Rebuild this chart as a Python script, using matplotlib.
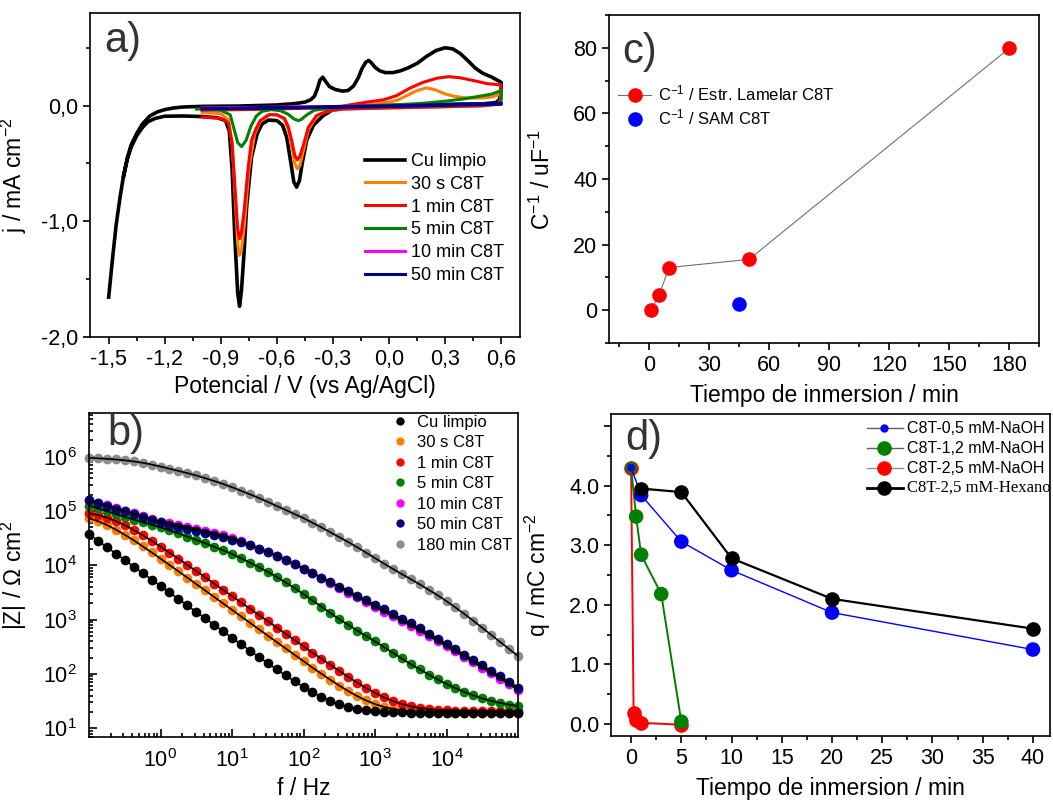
import numpy as np
import matplotlib
matplotlib.use('Agg')
import matplotlib.pyplot as plt
from matplotlib.lines import Line2D
from matplotlib.font_manager import FontProperties
from matplotlib.ticker import MultipleLocator, FuncFormatter, FixedLocator, LogLocator, NullFormatter

plt.rcParams['font.family'] = ['Liberation Sans', 'DejaVu Sans']
plt.rcParams['mathtext.fontset'] = 'custom'
plt.rcParams['mathtext.rm'] = 'Liberation Sans'
plt.rcParams['mathtext.it'] = 'Liberation Sans:italic'
plt.rcParams['mathtext.bf'] = 'Liberation Sans:bold'
plt.rcParams['axes.linewidth'] = 1.2

# ---------------- a) cyclic voltammograms (E / V, j / mA cm-2)
cv_labels = ['Cu limpio', '30 s C8T', '1 min C8T', '5 min C8T', '10 min C8T', '50 min C8T']
cv_colors = ['black', '#ff8000', '#ff0000', '#008000', '#ff00ff', '#000080']

E_cu = [-1.50, -1.48, -1.46, -1.44, -1.42, -1.40, -1.38, -1.35, -1.32, -1.28, -1.24, -1.20, -1.15, -1.10,
        -1.00, -0.80, -0.60, -0.50, -0.45, -0.42, -0.40, -0.385, -0.37, -0.355, -0.34, -0.32, -0.29, -0.25,
        -0.22, -0.19, -0.165, -0.145, -0.125, -0.11, -0.095, -0.075, -0.05, -0.02, 0.02, 0.06, 0.10, 0.15,
        0.20, 0.25, 0.30, 0.34, 0.38, 0.42, 0.46, 0.50, 0.55, 0.60,
        0.598, 0.59, 0.57, 0.50, 0.30, 0.00, -0.20, -0.30, -0.352, -0.405, -0.441, -0.465, -0.48, -0.495,
        -0.51, -0.525, -0.548, -0.57, -0.60, -0.646, -0.68, -0.705, -0.736, -0.7625, -0.775, -0.79, -0.80,
        -0.81, -0.825, -0.84, -0.855, -0.875, -0.92, -1.00, -1.10, -1.20, -1.25, -1.29, -1.32, -1.35, -1.38,
        -1.40, -1.42]
j_cu = [-1.655, -1.33, -1.03, -0.80, -0.60, -0.45, -0.34, -0.24, -0.16, -0.09, -0.055, -0.035, -0.02, -0.012,
        -0.007, -0.004, 0.005, 0.018, 0.03, 0.05, 0.08, 0.14, 0.22, 0.245, 0.21, 0.165, 0.14, 0.125,
        0.13, 0.17, 0.24, 0.32, 0.375, 0.39, 0.37, 0.33, 0.30, 0.285, 0.285, 0.30, 0.325, 0.365,
        0.425, 0.475, 0.50, 0.49, 0.45, 0.39, 0.325, 0.28, 0.245, 0.20,
        0.12, 0.05, 0.025, 0.015, 0.01, 0.0, -0.01, -0.035, -0.086, -0.17, -0.30, -0.50, -0.65, -0.705,
        -0.66, -0.50, -0.273, -0.17, -0.13, -0.125, -0.16, -0.24, -0.446, -0.88, -1.25, -1.6, -1.735,
        -1.62, -1.15, -0.55, -0.22, -0.13, -0.105, -0.095, -0.09, -0.092, -0.11, -0.14, -0.19, -0.26, -0.36,
        -0.46, -0.61]

E_30s = [-1.00, -0.80, -0.60, -0.40, -0.20, -0.10, 0.00, 0.05, 0.10, 0.15, 0.20, 0.25, 0.30, 0.35, 0.40,
         0.45, 0.50, 0.55, 0.58, 0.60,
         0.598, 0.58, 0.50, 0.30, 0.00, -0.25, -0.334, -0.387, -0.432, -0.46, -0.478, -0.491, -0.505, -0.52,
         -0.54, -0.56, -0.60, -0.65, -0.69, -0.72, -0.75, -0.775, -0.79, -0.80, -0.81, -0.825, -0.84, -0.86,
         -0.90, -1.00]
j_30s = [-0.035, -0.03, -0.025, -0.02, -0.005, 0.01, 0.03, 0.05, 0.09, 0.13, 0.153, 0.135, 0.10, 0.08, 0.068,
         0.065, 0.066, 0.075, 0.09, 0.115,
         0.04, 0.01, -0.005, -0.01, -0.02, -0.03, -0.05, -0.09, -0.21, -0.40, -0.52, -0.547, -0.50, -0.36,
         -0.20, -0.12, -0.08, -0.08, -0.14, -0.25, -0.55, -1.05, -1.25, -1.295, -1.2, -0.75, -0.32, -0.12,
         -0.07, -0.06]

E_1min = [-1.00, -0.80, -0.60, -0.40, -0.25, -0.12, -0.03, 0.04, 0.11, 0.18, 0.255, 0.318, 0.38, 0.452,
          0.523, 0.60,
          0.598, 0.58, 0.50, 0.30, 0.00, -0.25, -0.334, -0.387, -0.432, -0.46, -0.478, -0.491, -0.505, -0.52,
          -0.54, -0.56, -0.60, -0.64, -0.69, -0.715, -0.736, -0.755, -0.775, -0.79, -0.80, -0.81, -0.825,
          -0.84, -0.86, -0.90, -1.00]
j_1min = [-0.04, -0.035, -0.03, -0.02, -0.005, 0.03, 0.05, 0.086, 0.15, 0.20, 0.236, 0.25, 0.24, 0.216,
          0.19, 0.178,
          0.06, 0.015, 0.0, -0.01, -0.02, -0.03, -0.05, -0.085, -0.187, -0.35, -0.44, -0.469, -0.43, -0.31,
          -0.18, -0.11, -0.08, -0.078, -0.13, -0.21, -0.30, -0.55, -0.9, -1.1, -1.151, -1.07, -0.7,
          -0.32, -0.15, -0.11, -0.10]

E_5min = [-1.03, -0.80, -0.60, -0.40, -0.20, 0.00, 0.10, 0.20, 0.30, 0.40, 0.50, 0.55, 0.60,
          0.598, 0.57, 0.40, 0.00, -0.30, -0.40, -0.44, -0.47, -0.486, -0.51, -0.54, -0.58, -0.63, -0.68,
          -0.71, -0.74, -0.765, -0.789, -0.81, -0.83, -0.85, -0.90, -1.00]
j_5min = [-0.03, -0.025, -0.02, -0.015, -0.005, 0.005, 0.012, 0.022, 0.038, 0.058, 0.085, 0.10, 0.13,
          0.03, 0.01, 0.0, -0.01, -0.02, -0.04, -0.08, -0.12, -0.13, -0.115, -0.075, -0.045, -0.035, -0.05,
          -0.09, -0.18, -0.30, -0.354, -0.32, -0.2, -0.08, -0.04, -0.03]

E_10min = [-1.00, -0.50, 0.00, 0.60, 0.60, 0.00, -0.50, -1.00]
j_10min = [-0.02, -0.012, -0.003, 0.018, 0.01, -0.008, -0.018, -0.028]

E_50min = [-1.00, -0.50, 0.00, 0.60, 0.60, 0.00, -0.50, -1.00]
j_50min = [-0.025, -0.015, -0.002, 0.02, 0.012, -0.008, -0.02, -0.03]

# ---------------- b) impedance modulus |Z| (ohm cm2) vs f (Hz)
freq = [0.1, 0.133, 0.178, 0.237, 0.316, 0.422, 0.562, 0.75,
        1, 1.33, 1.78, 2.37, 3.16, 4.22, 5.62, 7.5,
        10, 13.3, 17.8, 23.7, 31.6, 42.2, 56.2, 75,
        100, 133, 178, 237, 316, 422, 562, 750,
        1000, 1330, 1780, 2370, 3160, 4220, 5620, 7500,
        10000, 13300, 17800, 23700, 31600, 42200, 56200, 75000, 100000]
z_cu = [37700, 28600, 21700, 16500, 12500, 9520, 7230, 5490, 4170, 3170, 2410, 1830, 1390, 1056, 803, 611,
        465, 354, 270, 206, 158, 121, 93.7, 73.0, 57.5, 46.1, 37.7, 31.8, 27.6, 24.7, 22.8, 21.6, 20.7,
        20.2, 19.8, 19.6, 19.5, 19.4, 19.3, 19.2, 19.2, 19.1, 19.1, 19.1, 19.0, 19.0, 19.0, 19.0, 19.0]
z_30s = [74200, 65200, 55400, 45600, 36600, 28900, 22460, 17350, 13320, 10190, 7790, 5940, 4525, 3445,
         2622, 1995, 1517, 1154, 877, 667, 508, 387, 295, 225, 172, 131, 101, 78.2, 61.1, 48.4, 39.2, 32.5,
         27.9, 24.8, 22.7, 21.4, 20.5, 20.0, 19.7, 19.4, 19.3, 19.2, 19.1, 19.1, 19.1, 19.0, 19.0, 19.0, 19.0]
z_1min = [91800, 84600, 75600, 65500, 55000, 44950, 36000, 28420, 22180, 17220, 13290, 10230, 7862, 6034,
          4623, 3545, 2716, 2080, 1594, 1222, 936, 717, 549, 421, 323, 248, 191, 147, 114, 88.5, 69.5, 55.2,
          44.8, 37.1, 31.7, 27.9, 25.4, 23.7, 22.6, 21.9, 21.45, 21.2, 20.9, 20.8, 20.7, 20.6, 20.6, 20.5, 20.5]
z_5min = [125900, 111700, 99100, 87900, 78000, 69700, 62400, 56000, 50100, 44200, 38900, 34000, 29500,
          25600, 22000, 19000, 16200, 13600, 11200, 9270, 7590, 6100, 4840, 3800, 2950, 2260, 1740, 1330,
          1020, 804, 631, 501, 398, 313, 245, 193, 151, 122, 97.7, 79.4, 65.3, 55.0, 46.8, 40.3, 35.5, 32.0,
          29.2, 27.2, 25.7]
z_10min = [162000, 143500, 127400, 113200, 100700, 90600, 80500, 71600, 63800, 60500, 55600, 51000, 46800,
           42900, 39100, 35500, 32000, 27900, 24000, 20400, 17600, 15000, 12600, 10500, 8710, 7210, 5960,
           4810, 3890, 3140, 2590, 2140, 1720, 1410, 1160, 951, 776, 631, 507, 407, 326, 260, 207, 165, 131,
           104, 82.2, 64.9, 51.3]
z_50min = [158000, 140300, 124500, 110000, 98400, 87500, 77800, 69200, 61700, 56500, 51900, 47600, 43700,
           40000, 36500, 33100, 29900, 26600, 23400, 20400, 17600, 15000, 12600, 10500, 8710, 7210, 5960,
           4920, 4070, 3370, 2770, 2290, 1880, 1550, 1270, 1040, 851, 692, 556, 447, 357, 285, 228, 181, 144,
           114, 90.2, 71.1, 56.2]
z_180min = [955000, 938000, 916000, 891000, 861000, 822000, 776000, 719000, 661000, 603000, 550000, 501000,
            452000, 403000, 359000, 316000, 275000, 237000, 204000, 174000, 148000, 124000, 105000, 88100,
            74100, 61000, 50100, 40700, 33100, 26900, 21600, 17200, 13600, 10800, 8610, 6920, 5560, 4470,
            3550, 2820, 2190, 1680, 1270, 955, 708, 525, 389, 288, 214]
eis_labels = ['Cu limpio', '30 s C8T', '1 min C8T', '5 min C8T', '10 min C8T', '50 min C8T', '180 min C8T']
eis_colors = ['black', '#ff8000', '#ff0000', '#008000', '#ff00ff', '#000080', '#8c8c8c']

# ---------------- c) inverse capacitance vs immersion time
t_lamelar = [1, 5, 10, 50, 180]
cinv_lamelar = [0.1, 4.5, 13.0, 15.5, 79.8]
t_sam = [45]
cinv_sam = [1.8]

# ---------------- d) charge vs immersion time
t_05 = [0, 1, 5, 10, 20, 40]
q_05 = [4.30, 3.84, 3.06, 2.58, 1.87, 1.25]
t_12 = [0, 0.5, 1, 3, 5]
q_12 = [4.30, 3.48, 2.84, 2.18, 0.04]
t_25 = [0, 0.25, 0.5, 1, 5]
q_25 = [4.30, 0.19, 0.07, 0.02, -0.01]
t_hex = [1, 5, 10, 20, 40]
q_hex = [3.95, 3.89, 2.78, 2.10, 1.60]
d_labels = ['C8T-0,5 mM-NaOH', 'C8T-1,2 mM-NaOH', 'C8T-2,5 mM-NaOH', 'C8T-2,5 mM-Hexano']

W, H = 1053, 806
fig = plt.figure(figsize=(W / 100, H / 100), dpi=100)

TICK = 15.5
LAB = 16.5
SANS = ['Liberation Sans', 'DejaVu Sans']
SERIF = ['Liberation Serif', 'DejaVu Serif']


def rect(x0, y0, x1, y1):
    # pixel box (top-left origin) -> figure fraction
    return [x0 / W, 1 - y1 / H, (x1 - x0) / W, (y1 - y0) / H]


def comma(v, pos=None):
    return f'{round(v, 2) + 0:.1f}'.replace('.', ',')


def style_out(ax):
    ax.tick_params(which='both', direction='out', top=False, right=False, labelsize=TICK, width=1.2)
    ax.tick_params(which='major', length=5)
    ax.tick_params(which='minor', length=3)


label_kw = dict(fontsize=30, color='#333333', ha='left', va='baseline')

# ---- a)
axa = fig.add_axes(rect(90, 13, 520, 337))
curves = [(E_cu, j_cu), (E_30s, j_30s), (E_1min, j_1min), (E_5min, j_5min), (E_10min, j_10min), (E_50min, j_50min)]
for (E, j), c, lab in zip(curves, cv_colors, cv_labels):
    lw = 2.6 if c == 'black' else 2.2
    axa.plot(E, j, color=c, lw=lw, label=lab, solid_joinstyle='round')
axa.set_xlim(-1.6, 0.7)
axa.set_ylim(-2.0, 0.8)
axa.xaxis.set_major_locator(FixedLocator([-1.5, -1.2, -0.9, -0.6, -0.3, 0.0, 0.3, 0.6]))
axa.xaxis.set_minor_locator(FixedLocator([-1.35, -1.05, -0.75, -0.45, -0.15, 0.15, 0.45]))
axa.yaxis.set_major_locator(FixedLocator([-2.0, -1.0, 0.0]))
axa.yaxis.set_minor_locator(FixedLocator([-1.5, -0.5, 0.5]))
axa.xaxis.set_major_formatter(FuncFormatter(comma))
axa.yaxis.set_major_formatter(FuncFormatter(comma))
style_out(axa)
axa.set_xlabel('Potencial / V (vs Ag/AgCl)', fontsize=LAB, labelpad=4)
axa.set_ylabel('j / mA cm$^{-2}$', fontsize=LAB)
axa.yaxis.set_label_coords(-0.142, 0.5)
axa.text(0.033, 0.88, 'a)', transform=axa.transAxes, **label_kw)
axa.legend(loc='upper left', bbox_to_anchor=(0.64, 0.568), frameon=False,
           prop=FontProperties(family=SANS, size=13),
           handlelength=2.2, handletextpad=0.35, labelspacing=0.32, borderpad=0, borderaxespad=0)

# ---- b)
axb = fig.add_axes(rect(89, 413, 518, 737))
zsets = [z_cu, z_30s, z_1min, z_5min, z_10min, z_50min, z_180min]
draw_order = [1, 2, 3, 4, 5, 6, 0]
for i in draw_order:
    axb.plot(freq, zsets[i], 'o', color=eis_colors[i], ms=7, mec='none', clip_on=False, zorder=2)
for z in zsets:
    axb.plot(freq, z, color='black', lw=1.2, zorder=3)
axb.set_xscale('log')
axb.set_yscale('log')
axb.set_xlim(0.1, 1e5)
axb.set_ylim(6.9, 6.4e6)
axb.xaxis.set_major_locator(FixedLocator([1, 10, 100, 1000, 10000]))
axb.xaxis.set_minor_locator(LogLocator(base=10, subs=np.arange(2, 10)))
axb.xaxis.set_minor_formatter(NullFormatter())
axb.yaxis.set_major_locator(FixedLocator([10, 1e2, 1e3, 1e4, 1e5, 1e6]))
axb.yaxis.set_minor_locator(LogLocator(base=10, subs=np.arange(2, 10)))
axb.yaxis.set_minor_formatter(NullFormatter())
axb.tick_params(which='both', direction='in', top=False, right=False, labelsize=TICK, width=1.2, pad=9)
axb.tick_params(which='major', length=6)
axb.tick_params(which='minor', length=3)
axb.set_xlabel('f / Hz', fontsize=LAB, labelpad=3)
axb.set_ylabel('|Z| / Ω cm$^2$', fontsize=LAB)
axb.yaxis.set_label_coords(-0.14, 0.5)
axb.text(0.042, 0.90, 'b)', transform=axb.transAxes, **label_kw)
hb = [Line2D([], [], ls='none', marker='o', ms=6, color=c, mec='none') for c in eis_colors]
axb.legend(hb, eis_labels, loc='upper left', bbox_to_anchor=(0.71, 0.995), frameon=False,
           prop=FontProperties(family=SANS, size=12),
           handlelength=0.8, handletextpad=0.6, labelspacing=0.33, borderpad=0, borderaxespad=0)

# ---- c)
axc = fig.add_axes(rect(609, 15, 1039, 343))
axc.plot(t_lamelar, cinv_lamelar, color='#707070', lw=0.8, marker='o', ms=9.5, mfc='#ff0000', mec='#ff0000',
         label='C$^{-1}$ / Estr. Lamelar C8T')
axc.plot(t_sam, cinv_sam, ls='none', marker='o', ms=9.5, color='#0000ff', mec='#0000ff',
         label='C$^{-1}$ / SAM C8T')
axc.set_xlim(-20, 195)
axc.set_ylim(-10, 90)
axc.xaxis.set_major_locator(MultipleLocator(30))
axc.xaxis.set_minor_locator(MultipleLocator(15))
axc.yaxis.set_major_locator(FixedLocator([0, 20, 40, 60, 80]))
axc.yaxis.set_minor_locator(MultipleLocator(10))
style_out(axc)
axc.set_xlabel('Tiempo de inmersion / min', fontsize=LAB, labelpad=6)
axc.set_ylabel('C$^{-1}$ / uF$^{-1}$', fontsize=LAB)
axc.yaxis.set_label_coords(-0.126, 0.5)
axc.text(0.03, 0.853, 'c)', transform=axc.transAxes, **label_kw)
axc.legend(loc='upper left', bbox_to_anchor=(0.021, 0.79), frameon=False,
           prop=FontProperties(family=SANS, size=12),
           handlelength=2.0, handletextpad=0.4, labelspacing=0.25, borderpad=0, borderaxespad=0)

# ---- d)
axd = fig.add_axes(rect(611, 414, 1050, 736))
big = 9.5 ** 2
axd.plot(t_25, q_25, color='#ff0000', lw=1.4, zorder=2)
axd.scatter(t_25, q_25, s=big, color='#ff0000', zorder=2, clip_on=False)
axd.plot(t_12, q_12, color='#008000', lw=1.4, zorder=3)
axd.scatter(t_12, q_12, s=np.where(np.array(t_12) == 0, 7.5 ** 2, big), color='#008000', zorder=3)
axd.plot(t_05, q_05, color='#0000ff', lw=1.0, zorder=4)
axd.scatter(t_05, q_05, s=np.where(np.array(t_05) == 0, 4.5 ** 2, big), color='#0000ff', zorder=4)
axd.plot(t_hex, q_hex, color='black', lw=1.6, zorder=5)
axd.scatter(t_hex, q_hex, s=big, color='black', zorder=5)
axd.set_xlim(-2, 41.7)
axd.set_ylim(-0.2, 5.2)
axd.xaxis.set_major_locator(MultipleLocator(5))
axd.xaxis.set_minor_locator(MultipleLocator(2.5))
axd.yaxis.set_major_locator(FixedLocator([0, 1, 2, 3, 4, 5]))
axd.yaxis.set_minor_locator(MultipleLocator(0.5))
axd.yaxis.set_major_formatter(FuncFormatter(lambda v, p: f'{v:.1f}' if v < 4.5 else ''))
style_out(axd)
axd.set_xlabel('Tiempo de inmersion / min', fontsize=LAB, labelpad=6)
axd.set_ylabel('q / mC cm$^{-2}$', fontsize=LAB)
axd.yaxis.set_label_coords(-0.132, 0.5)
axd.text(0.032, 0.888, 'd)', transform=axd.transAxes, **label_kw)

# legend for d) laid out by hand: the last entry is set in a serif face
d_handles = [dict(color='#606060', lw=1.0, ms=5, mc='#0000ff'),
             dict(color='#606060', lw=1.0, ms=9.5, mc='#008000'),
             dict(color='#909090', lw=1.0, ms=9.5, mc='#ff0000'),
             dict(color='black', lw=2.0, ms=9.5, mc='black')]
row_y = [0.9565, 0.894, 0.832, 0.770]
for k, (hs, lab, yy) in enumerate(zip(d_handles, d_labels, row_y)):
    axd.plot([0.5825, 0.6645], [yy, yy], transform=axd.transAxes, color=hs['color'], lw=hs['lw'],
             clip_on=False, zorder=6)
    axd.plot([0.6225], [yy], transform=axd.transAxes, marker='o', ms=hs['ms'], color=hs['mc'],
             mec=hs['mc'], clip_on=False, zorder=7)
    fam = SERIF if k == 3 else SANS
    fs = 12 if k == 3 else 11.5
    axd.text(0.6736, yy, lab, transform=axd.transAxes, va='center', ha='left',
             fontfamily=fam, fontsize=fs, clip_on=False, zorder=7)

fig.savefig('out.png', dpi=100)
